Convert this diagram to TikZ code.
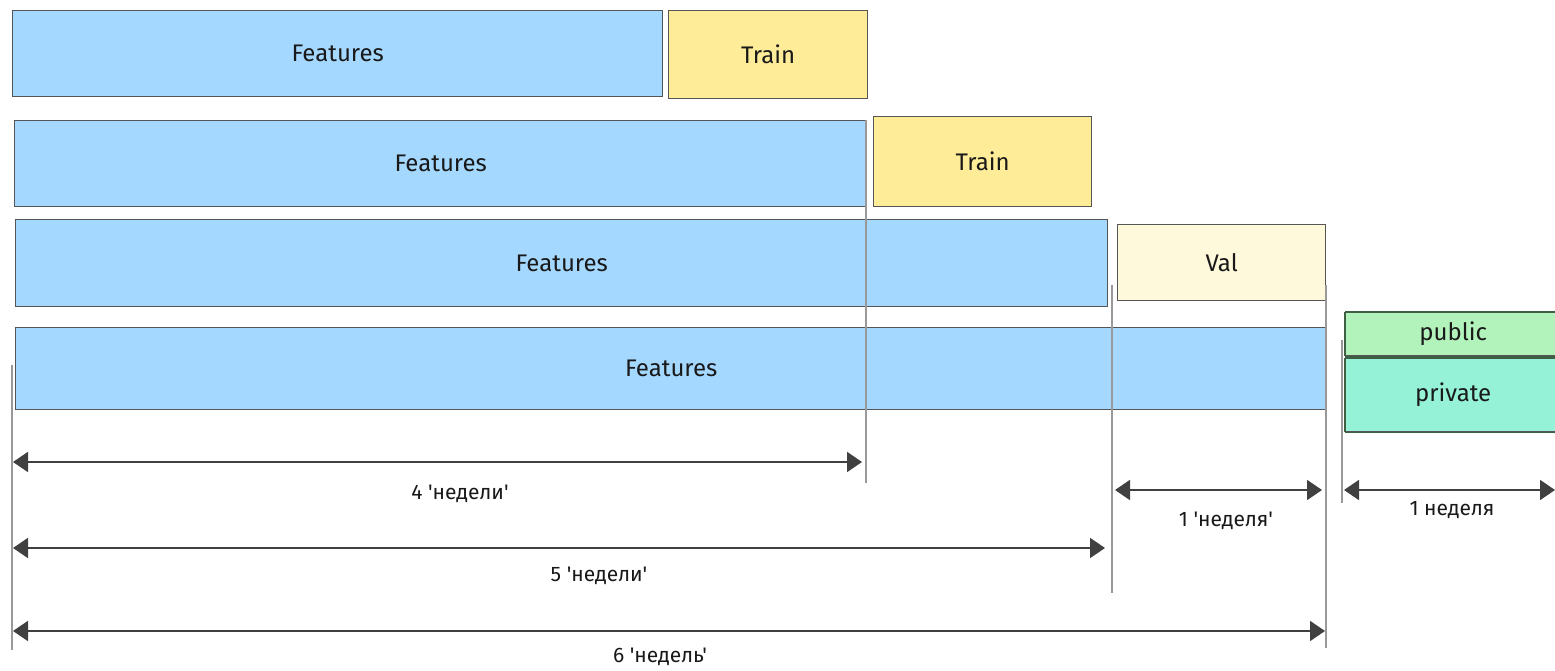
\documentclass[tikz,border=0pt]{standalone}
\usepackage{fontspec}
\setmainfont{Fira Sans}[Ligatures=TeXOff]
\usetikzlibrary{arrows.meta}
\definecolor{featc}{HTML}{A5D8FF}
\definecolor{trainc}{HTML}{FFEC99}
\definecolor{valc}{HTML}{FFF9DB}
\definecolor{pubc}{HTML}{B2F2BB}
\definecolor{privc}{HTML}{96F2D7}
\definecolor{strokec}{HTML}{555555}
\definecolor{greenstroke}{HTML}{3F5F45}
\tikzset{
  box/.style={draw=strokec, line width=1.3pt, anchor=north west, inner sep=0pt,
    font=\fontsize{24}{28}\selectfont, text=black!90},
  guide/.style={draw=gray!80, line width=1.2pt},
  dim/.style={draw=black!75, line width=1.8pt, {Triangle[length=15pt,width=20pt]}-{Triangle[length=15pt,width=20pt]}},
  lbl/.style={font=\fontsize{21}{24}\selectfont, text=black!90, inner sep=0pt},
}
\newcommand{\bx}[7]{\node[box, fill=#6, minimum width=#3pt, minimum height=#4pt] (#1) at (#2,#5) {#7};}
\begin{document}
\begin{tikzpicture}[x=1pt, y=-1pt]
\useasboundingbox (0,0) rectangle (1555,671);
% row 1
\bx{f1}{12}{650}{86}{10}{featc}{Features}
\bx{t1}{668}{199}{88}{10}{trainc}{Train}
% row 2
\bx{f2}{14}{852}{86}{120}{featc}{Features}
\bx{t2}{873}{218}{90}{116}{trainc}{Train}
% row 3
\bx{f3}{15}{1092}{87}{219}{featc}{Features}
\bx{v3}{1117}{208}{76}{224}{valc}{Val}
% row 4
\bx{f4}{15}{1311}{82}{327}{featc}{Features}
\bx{pub}{1345}{215}{43}{312}{pubc}{public}
\bx{priv}{1345}{215}{73}{358}{privc}{private}
\draw[greenstroke, line width=1.3pt] (pub.north west) -- (pub.north east) (pub.south west) -- (pub.south east) (pub.north west) -- (pub.south west);
\draw[greenstroke, line width=1.3pt] (priv.north west) -- (priv.north east) (priv.south west) -- (priv.south east) (priv.north west) -- (priv.south west);
% guide lines
\coordinate (g0t) at (12,365); \coordinate (g0b) at (12,650);
\coordinate (g1t) at (866,120); \coordinate (g1b) at (866,483);
\coordinate (g2t) at (1112,285); \coordinate (g2b) at (1112,593);
\coordinate (g3t) at (1326,285); \coordinate (g3b) at (1326,648);
\coordinate (g4t) at (1342,340); \coordinate (g4b) at (1342,503);
\draw[guide] (g0t) -- (g0b);
\draw[guide] (g1t) -- (g1b);
\draw[guide] (g2t) -- (g2b);
\draw[guide] (g3t) -- (g3b);
\draw[guide] (g4t) -- (g4b);
% dimension arrows
\coordinate (a4l) at (13,462); \coordinate (a4r) at (862,462);
\coordinate (a5l) at (13,548); \coordinate (a5r) at (1105,548);
\coordinate (a6l) at (13,631); \coordinate (a6r) at (1325,631);
\coordinate (b1l) at (1115,490); \coordinate (b1r) at (1322,490);
\coordinate (c1l) at (1344,490); \coordinate (c1r) at (1555,490);
\draw[dim] (a4l) -- (a4r);
\draw[dim] (a5l) -- (a5r);
\draw[dim] (a6l) -- (a6r);
\draw[dim] (b1l) -- (b1r);
\draw[dim] (c1l) -- (c1r);
\node[lbl] (l4) at (460,494) {4 'недели'};
\node[lbl] (l5) at (599,576) {5 'недели'};
\node[lbl] (l6) at (660,657) {6 'недель'};
\node[lbl] (l1a) at (1226,521) {1 'неделя'};
\node[lbl] (l1b) at (1452,510) {1 неделя};
\end{tikzpicture}
\end{document}
